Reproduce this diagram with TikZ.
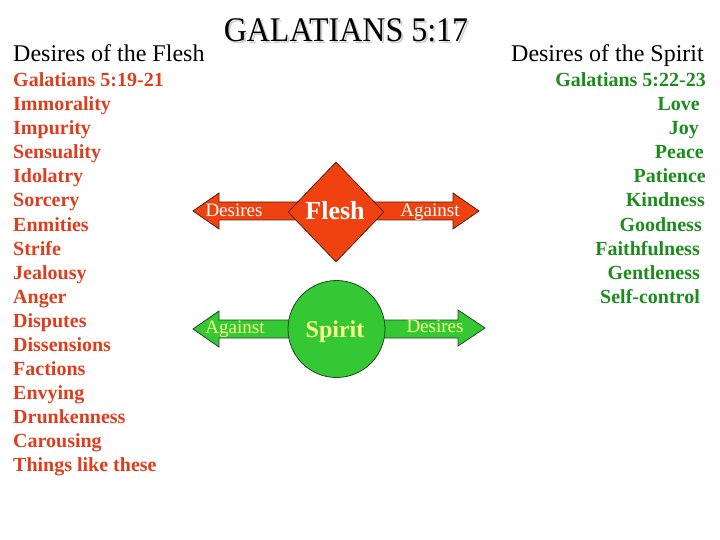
\documentclass[tikz,border=0pt]{standalone}
\usepackage{fontspec}
\setmainfont{Liberation Serif}
\usetikzlibrary{shapes.geometric}
\definecolor{fleshtext}{RGB}{222,62,30}
\definecolor{fleshfill}{RGB}{240,66,16}
\definecolor{fleshline}{RGB}{90,30,10}
\definecolor{spirittext}{RGB}{28,140,28}
\definecolor{spiritfill}{RGB}{52,200,52}
\definecolor{spiritline}{RGB}{30,70,30}
\definecolor{spiritword}{RGB}{250,255,140}
\tikzset{
  head/.style={font=\fontsize{24}{28}\selectfont, inner sep=0pt},
  titlestyle/.style={font=\fontsize{32}{36}\selectfont, anchor=base, inner sep=0pt},
  fitem/.style={font=\fontsize{20}{24}\selectfont\bfseries, text=fleshtext, inner sep=0pt, anchor=base west},
  sitem/.style={font=\fontsize{20}{24}\selectfont\bfseries, text=spirittext, inner sep=0pt, anchor=base east},
  farrow/.style={fill=fleshfill, draw=fleshline, line width=0.8pt, line join=miter},
  sarrow/.style={fill=spiritfill, draw=spiritline, line width=0.8pt, line join=miter},
  fword/.style={font=\fontsize{19}{22}\selectfont, text=white, inner sep=0pt, anchor=base},
  sword/.style={font=\fontsize{19}{22}\selectfont, text=spiritword, inner sep=0pt, anchor=base},
}
\begin{document}
\begin{tikzpicture}[x=1pt,y=-1pt]
\useasboundingbox[fill=white] (0,0) rectangle (720,540);
% title with soft shadow
\node[titlestyle, text=black!35, opacity=0.55] (titleshadow) at (348,44) {\scalebox{1}[1.08]{GALATIANS 5:17}};
\node[titlestyle] (title) at (346,42) {\scalebox{1}[1.08]{GALATIANS 5:17}};
% headings
\node[head, anchor=base west] (hflesh) at (13,62) {Desires of the Flesh};
\node[head, anchor=base east] (hspirit) at (704,62) {Desires of the Spirit};
% flesh list
\node[fitem] (f0) at (13,87) {Galatians 5:19-21};
\node[fitem] (f1) at (13,111) {Immorality};
\node[fitem] (f2) at (13,135) {Impurity};
\node[fitem] (f3) at (13,159) {Sensuality};
\node[fitem] (f4) at (13,183) {Idolatry};
\node[fitem] (f5) at (13,207) {Sorcery};
\node[fitem] (f6) at (13,231) {Enmities};
\node[fitem] (f7) at (13,255) {Strife};
\node[fitem] (f8) at (13,279) {Jealousy};
\node[fitem] (f9) at (13,303) {Anger};
\node[fitem] (f10) at (13,327) {Disputes};
\node[fitem] (f11) at (13,351) {Dissensions};
\node[fitem] (f12) at (13,375) {Factions};
\node[fitem] (f13) at (13,399) {Envying};
\node[fitem] (f14) at (13,423) {Drunkenness};
\node[fitem] (f15) at (13,447) {Carousing};
\node[fitem] (f16) at (13,471) {Things like these};
% spirit list
\node[sitem] (s0) at (706,87) {Galatians 5:22-23};
\node[sitem] (s1) at (700,111) {Love};
\node[sitem] (s2) at (699,135) {Joy};
\node[sitem] (s3) at (704,159) {Peace};
\node[sitem] (s4) at (706,183) {Patience};
\node[sitem] (s5) at (705,207) {Kindness};
\node[sitem] (s6) at (702,231) {Goodness};
\node[sitem] (s7) at (700,255) {Faithfulness};
\node[sitem] (s8) at (700,279) {Gentleness};
\node[sitem] (s9) at (700,303) {Self-control};
% flesh arrows
\draw[farrow] (193,211) -- (219,193) -- (219,202) -- (453,202) -- (453,193) -- (479,211) -- (453,229) -- (453,220) -- (219,220) -- (219,229) -- cycle;
\node[diamond, farrow, minimum width=96pt, minimum height=100pt, inner sep=0pt] (flesh) at (336,212) {};
\node[font=\fontsize{26}{30}\selectfont\bfseries, text=white, anchor=base, inner sep=0pt] (fleshlabel) at (335,220) {Flesh};
\node[fword] (fdes) at (234,217) {Desires};
\node[fword] (fag) at (430,217) {Against};
% spirit arrows
\draw[sarrow] (193,329) -- (219,311) -- (219,320) -- (458,320) -- (458,310) -- (485,328) -- (458,346) -- (458,338) -- (219,338) -- (219,347) -- cycle;
\node[circle, sarrow, minimum size=97pt, inner sep=0pt] (spirit) at (336.5,329) {};
\node[font=\fontsize{24}{28}\selectfont\bfseries, text=spiritword, anchor=base, inner sep=0pt] (spiritlabel) at (335,337) {Spirit};
\node[sword] (sag) at (235,333) {Against};
\node[sword] (sdes) at (435,332) {Desires};
\end{tikzpicture}
\end{document}
